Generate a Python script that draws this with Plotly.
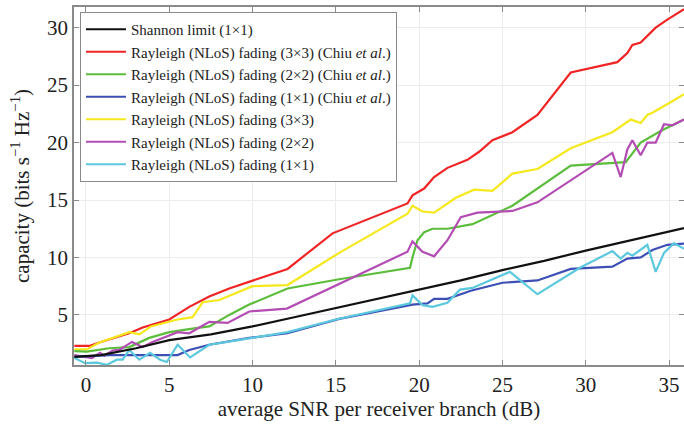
import plotly.graph_objects as go

# ---- data ----
shannon_x = [-0.7, 0.9, 3, 5, 7.5, 10, 12.5, 15, 17.5, 20, 22.5, 25, 27.5, 30, 32.5, 35, 35.9]
shannon_y = [1.35, 1.5, 2.1, 2.8, 3.3, 4.0, 4.8, 5.6, 6.4, 7.2, 8.0, 8.9, 9.7, 10.6, 11.4, 12.2, 12.55]

red_x = [-0.7, 0.2, 0.8, 1.5, 2.6, 3.4, 5.0, 6.2, 7.4, 8.6, 10, 12.1, 14.8, 17.6, 19.3, 19.6, 20.3,
         20.9, 21.7, 22.9, 23.6, 24.4, 25.6, 27.1, 29.1, 31.9, 32.5, 32.8, 33.3, 34.2, 34.9, 35.9]
red_y = [2.3, 2.3, 2.6, 2.9, 3.4, 3.9, 4.6, 5.7, 6.6, 7.3, 8.0, 9.0, 12.1, 13.7, 14.7, 15.4, 16.0,
         17.0, 17.8, 18.5, 19.2, 20.2, 20.9, 22.4, 26.1, 27.0, 27.8, 28.5, 28.7, 30.0, 30.7, 31.6]

green_x = [-0.7, 0.05, 1.4, 2.6, 3.8, 5.0, 6.6, 7.4, 8.6, 9.8, 12.1, 15.2, 19.45, 19.6, 19.9, 20.3,
           20.8, 21.7, 23.2, 25.6, 29.1, 32.4, 33.3, 34.5, 35.9]
green_y = [1.85, 1.8, 2.1, 2.2, 3.0, 3.5, 3.85, 4.0, 5.0, 5.9, 7.3, 8.1, 9.1, 10.0, 11.5, 12.2,
           12.5, 12.5, 12.9, 14.5, 18.0, 18.3, 20.0, 21.0, 22.0]

blue_x = [-0.7, 1.4, 5.5, 6.2, 7.4, 9.8, 12.1, 15.2, 19.6, 20.5, 20.9, 21.7, 23.1, 25.0, 27.1,
          29.1, 31.6, 32.5, 33.3, 34.0, 34.9, 35.9]
blue_y = [1.35, 1.5, 1.5, 1.95, 2.4, 3.0, 3.4, 4.65, 5.9, 6.0, 6.4, 6.4, 7.1, 7.8, 8.0,
          9.0, 9.2, 9.9, 10.0, 10.65, 11.1, 11.2]

yellow_x = [-0.7, 0.05, 0.8, 1.4, 2.6, 3.2, 3.9, 5.5, 6.4, 7.0, 8.0, 10.0, 12.1, 15.2, 19.3, 19.6,
            20.2, 20.9, 22.2, 23.3, 24.4, 25.6, 27.1, 29.1, 31.6, 32.7, 33.3, 33.7, 34.0, 35.2, 35.9]
yellow_y = [2.0, 2.0, 2.6, 2.9, 3.5, 3.3, 4.0, 4.6, 4.8, 6.1, 6.3, 7.5, 7.6, 10.4, 13.8, 14.5,
            14.0, 13.9, 15.2, 15.9, 15.8, 17.3, 17.7, 19.5, 20.9, 22.0, 21.7, 22.4, 22.6, 23.6, 24.2]

magenta_x = [-0.7, -0.05, 0.36, 0.84, 1.1, 1.6, 2.0, 2.76, 3.4, 4.0, 4.6, 5.5, 6.2, 7.4, 8.5, 9.8,
             12.06, 15.2, 19.3, 19.6, 20.2, 20.9, 21.7, 22.5, 23.5, 25.6, 27.1, 31.6, 32.1, 32.5,
             32.8, 33.3, 33.7, 34.2, 34.7, 35.2, 35.9]
magenta_y = [1.5, 1.35, 1.25, 1.7, 1.45, 1.9, 1.95, 2.65, 2.2, 2.65, 3.0, 3.5, 3.4, 4.4, 4.3, 5.3,
             5.55, 7.7, 10.5, 11.4, 10.5, 10.1, 11.5, 13.5, 13.9, 14.05, 14.8, 19.1, 17.0, 19.4,
             20.2, 18.9, 20.0, 20.0, 21.6, 21.5, 22.0]

cyan_x = [-0.7, -0.05, 0.65, 1.25, 1.85, 2.2, 2.6, 3.2, 3.85, 4.45, 4.85, 5.5, 6.25, 7.4, 9.8,
          12.1, 15.0, 17.5, 19.45, 19.6, 20.2, 20.8, 21.7, 22.45, 23.2, 25.45, 27.1, 29.65, 31.6,
          32.1, 32.5, 32.8, 33.7, 34.2, 34.7, 35.3, 35.9]
cyan_y = [1.25, 0.8, 0.85, 0.65, 1.1, 1.1, 1.95, 1.1, 1.7, 1.1, 0.9, 2.4, 1.3, 2.4, 2.95,
          3.5, 4.6, 5.4, 6.0, 6.7, 5.85, 5.7, 6.05, 7.2, 7.35, 8.75, 6.8, 9.1, 10.55,
          9.9, 10.4, 10.15, 11.1, 8.75, 10.4, 11.25, 10.75]

series = [
    ("Shannon limit (1×1)", shannon_x, shannon_y, "#111111"),
    ("Rayleigh (NLoS) fading (3×3) (Chiu <i>et al</i>.)", red_x, red_y, "#f02424"),
    ("Rayleigh (NLoS) fading (2×2) (Chiu <i>et al</i>.)", green_x, green_y, "#5cbd3c"),
    ("Rayleigh (NLoS) fading (1×1) (Chiu <i>et al</i>.)", blue_x, blue_y, "#3d4fb4"),
    ("Rayleigh (NLoS) fading (3×3)", yellow_x, yellow_y, "#f5e81c"),
    ("Rayleigh (NLoS) fading (2×2)", magenta_x, magenta_y, "#b34db3"),
    ("Rayleigh (NLoS) fading (1×1)", cyan_x, cyan_y, "#5cc8de"),
]

x_ticks = [0, 5, 10, 15, 20, 25, 30, 35]
y_ticks = [5, 10, 15, 20, 25, 30]

fig = go.Figure()
draw_order = [1, 4, 2, 5, 3, 6, 0]
for i in draw_order:
    name, xs, ys, col = series[i]
    fig.add_trace(go.Scatter(x=xs, y=ys, mode="lines", name=name,
                             line=dict(color=col, width=2.2), legendrank=i + 1))

serif = "Liberation Serif"
txt = "#222222"
fig.update_layout(
    width=684, height=424,
    margin=dict(l=74, r=0, t=7, b=59),
    paper_bgcolor="white", plot_bgcolor="white",
    font=dict(family=serif, color=txt),
    showlegend=True,
    legend=dict(x=0.0098, y=0.986, xanchor="left", yanchor="top",
                bgcolor="white", bordercolor="#8a8a8a", borderwidth=1,
                font=dict(family=serif, size=15, color=txt),
                traceorder="normal", itemwidth=40),
    xaxis=dict(range=[-0.72, 35.9], tickvals=x_ticks, showgrid=True, gridcolor="#ececec",
               showline=True, linecolor="#8a8a8a", linewidth=1.5, mirror="ticks",
               ticks="inside", ticklen=5, tickcolor="#8a8a8a", zeroline=False,
               automargin=False,
               tickfont=dict(size=21, family=serif, color=txt),
               title=dict(text="average SNR per receiver branch (dB)", standoff=4,
                          font=dict(size=21, family=serif, color=txt))),
    yaxis=dict(range=[0.64, 31.8], tickvals=y_ticks, showgrid=True, gridcolor="#ececec",
               showline=True, linecolor="#8a8a8a", linewidth=1.5, mirror="ticks",
               ticks="inside", ticklen=5, tickcolor="#8a8a8a", zeroline=False,
               automargin=False,
               tickfont=dict(size=21, family=serif, color=txt),
               title=dict(text="capacity (bits s<sup>−1</sup> Hz<sup>−1</sup>)", standoff=12,
                          font=dict(size=21, family=serif, color=txt))),
)

fig.write_html("out.html", config={"displayModeBar": False},
               post_script="document.body.style.margin='0';")
